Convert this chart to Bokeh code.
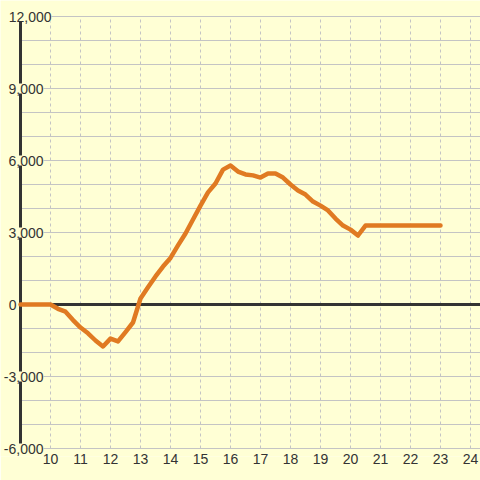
from bokeh.plotting import figure
from bokeh.models import ColumnDataSource, LabelSet, FixedTicker, Range1d, Grid
from bokeh.core.properties import value
from bokeh.embed import file_html
from bokeh.resources import INLINE

# ---- data ----
hours = [9.0, 9.25, 9.5, 9.75, 10.0, 10.25, 10.5, 10.75, 11.0, 11.25, 11.5, 11.75,
         12.0, 12.25, 12.5, 12.75, 13.0, 13.25, 13.5, 13.75, 14.0, 14.25, 14.5, 14.75,
         15.0, 15.25, 15.5, 15.75, 16.0, 16.25, 16.5, 16.75, 17.0, 17.25, 17.5, 17.75,
         18.0, 18.25, 18.5, 18.75, 19.0, 19.25, 19.5, 19.75, 20.0, 20.25, 20.5, 20.75,
         21.0, 21.25, 21.5, 21.75, 22.0, 22.25, 22.5, 22.75, 23.0]
values = [0, 0, 0, 0, 0, -180, -300, -650, -960, -1200, -1500, -1750,
          -1420, -1540, -1150, -750, 250, 720, 1170, 1580, 1940, 2460, 2960, 3540,
          4120, 4670, 5040, 5620, 5790, 5540, 5420, 5380, 5290, 5460, 5460, 5290,
          5000, 4750, 4580, 4290, 4120, 3920, 3580, 3290, 3120, 2875, 3290, 3290,
          3290, 3290, 3290, 3290, 3290, 3290, 3290, 3290, 3290]

x_ticks = list(range(10, 25))
y_grid_ticks = list(range(-6000, 13000, 1000))
y_label_values = [-6000, -3000, 0, 3000, 6000, 9000, 12000]
y_label_texts = ["-6,000", "-3,000", "0", "3,000", "6,000", "9,000", "12,000"]
x_start = 9  # where the vertical axis sits

# ---- styling ----
BG = "#FFFFD5"
ORANGE = "#E07A22"
DARK = "#333333"
GRID = "#C4C4C4"
FONT = "Liberation Sans"
label_offsets = [23, 23, -4, 23, 23, 23, 31]

X0 = x_start - 20 / 30
X1 = X0 + 480 / 30
Y0 = -152 / 0.024
Y1 = 304 / 0.024

p = figure(width=480, height=480, output_backend="svg", toolbar_location=None,
           x_range=Range1d(X0, X1), y_range=Range1d(Y0, Y1),
           y_axis_location=None,
           min_border_left=0, min_border_right=0, min_border_top=0, min_border_bottom=24)
p.background_fill_color = BG
p.border_fill_color = BG
p.outline_line_color = None

# x axis
xa = p.xaxis[0]
xa.ticker = FixedTicker(ticks=x_ticks)
xa.axis_line_color = None
xa.major_tick_line_color = None
xa.minor_tick_line_color = None
xa.major_tick_out = 0
xa.major_tick_in = 0
xa.minor_tick_out = 0
xa.major_label_text_font = FONT
xa.major_label_text_font_size = "14px"
xa.major_label_text_color = DARK
xa.major_label_standoff = -3

# grids
p.xgrid.ticker = FixedTicker(ticks=x_ticks)
p.xgrid.grid_line_color = GRID
p.xgrid.grid_line_dash = "3 3"
p.xgrid.grid_line_width = 1
p.ygrid.ticker = FixedTicker(ticks=y_grid_ticks)
p.ygrid.grid_line_color = GRID
p.ygrid.grid_line_width = 1
if "cross_bounds" in Grid.properties():
    p.xgrid.cross_bounds = (min(y_grid_ticks), max(y_grid_ticks))
    p.ygrid.cross_bounds = (x_start, X1)

# axis line & zero line
p.segment(x0=[x_start, x_start], y0=[min(y_grid_ticks), 0],
          x1=[x_start, X1], y1=[max(y_grid_ticks), 0],
          line_color=DARK, line_width=3)

# series
src = ColumnDataSource(dict(x=hours, y=values))
p.line("x", "y", source=src, line_color=ORANGE, line_width=4.5,
       line_join="round", line_cap="round")

# y tick labels
lsrc = ColumnDataSource(dict(x=[x_start] * len(y_label_values), y=y_label_values,
                             t=y_label_texts, off=label_offsets))
p.add_layout(LabelSet(x="x", y="y", text="t", source=lsrc, x_offset="off",
                      text_align="right", text_baseline="middle",
                      text_font=value(FONT), text_font_size=value("14px"),
                      text_color=value(DARK), background_fill_color=BG))

open("out.html", "w").write(file_html(p, INLINE))
